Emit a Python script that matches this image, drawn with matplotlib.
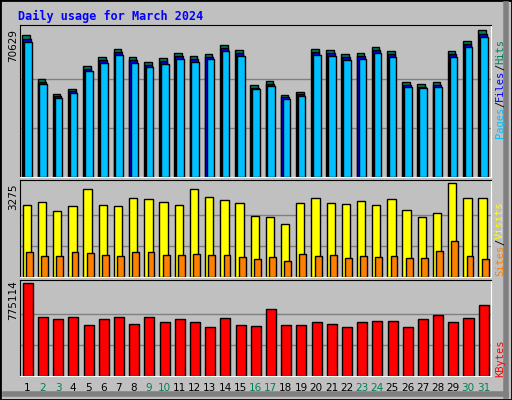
import numpy as np
import matplotlib
matplotlib.use("Agg")
import matplotlib.pyplot as plt

days = list(range(1, 32))
weekend = [2, 3, 9, 10, 16, 17, 23, 24, 30, 31]

# hits as fraction of 70629
hits_frac = [0.944, 0.651, 0.551, 0.585, 0.738, 0.798, 0.851, 0.798, 0.765, 0.791,
             0.825, 0.805, 0.820, 0.880, 0.845, 0.611, 0.638, 0.545, 0.564, 0.851,
             0.845, 0.818, 0.825, 0.865, 0.838, 0.631, 0.618, 0.631, 0.838, 0.905, 0.978]
hits = [f / 0.978 * 70629 for f in hits_frac]
files = [h * 0.975 for h in hits]
pages = [h * 0.955 for h in hits]

# visits / sites as pixel tops (baseline 303, top 18 in zoomed coords)
visits_px = [91, 82, 109, 94, 46, 91, 94, 70, 73, 82, 91, 46, 67, 76, 85, 124,
             127, 148, 85, 70, 85, 88, 79, 91, 73, 106, 127, 115, 28, 70, 70]
sites_px = [229, 241, 241, 229, 232, 238, 241, 229, 229, 238, 238, 235, 238, 238, 244, 250,
            244, 256, 235, 241, 238, 247, 241, 244, 241, 247, 247, 226, 196, 241, 250]
visits = [(303 - p) / (303 - 28) * 3275 for p in visits_px]
sites = [(303 - p) / (303 - 28) * 3275 for p in sites_px]

kbytes_px = [327, 427, 433, 427, 451, 433, 427, 448, 427, 442, 433, 442, 457, 430, 451, 454,
             403, 451, 451, 442, 448, 457, 442, 439, 439, 457, 433, 421, 442, 430, 391]
kbytes = [(601 - p) / (601 - 327) * 775114 for p in kbytes_px]

BG = "#C0C0C0"
W, H = 512, 400
fig = plt.figure(figsize=(5.12, 4.0), dpi=100, facecolor=BG)

# outer frame
fig.add_artist(plt.Rectangle((0, 0), 1, 1, transform=fig.transFigure, fill=False,
                             edgecolor="black", lw=2))
fig.add_artist(plt.Line2D([1 - 6 / W, 1 - 6 / W], [0.01, 1 - 4 / H], transform=fig.transFigure,
                          color="#808080", lw=4))
fig.add_artist(plt.Line2D([0.01, 1 - 6 / W], [6 / H, 6 / H], transform=fig.transFigure,
                          color="#808080", lw=4))


def panel(top, bottom, ymax):
    ax = fig.add_axes([20 / W, 1 - bottom / H, (491 - 20) / W, (bottom - top) / H])
    ax.set_facecolor(BG)
    ax.set_xlim(0.5, 31.5)
    ax.set_ylim(0, ymax * 1.035)
    for y in (ymax / 3, 2 * ymax / 3):
        ax.axhline(y, color="#808080", lw=1, zorder=0)
    ax.set_xticks([])
    ax.set_yticks([])
    ax.spines["top"].set_color("black")
    ax.spines["left"].set_color("black")
    ax.spines["bottom"].set_color("white")
    ax.spines["right"].set_color("white")
    return ax


x = np.array(days)
ek = dict(edgecolor="black", linewidth=1)

ax1 = panel(25, 177, 70629 * 1.0)
ax1.bar(x - 0.09, hits, width=0.5, color="#00805C", **ek)
ax1.bar(x - 0.045, files, width=0.5, color="#0000FF", **ek)
ax1.bar(x + 0.03, pages, width=0.5, color="#00C0FF", **ek)

ax2 = panel(180, 277, 3275)
ax2.bar(x - 0.05, visits, width=0.55, color="#FFFF00", **ek)
ax2.bar(x + 0.12, sites, width=0.45, color="#FF8000", **ek)

ax3 = panel(280, 376, 775114)
ax3.bar(x + 0.02, kbytes, width=0.66, color="#FF0000", **ek)

mono = "DejaVu Sans Mono"
fig.text(18 / W, 1 - 16 / H, "Daily usage for March 2024", color="#0000FF",
         family=mono, weight="bold", fontsize=8.5, va="center")
for txt, yc in (("70629", 45), ("3275", 197), ("775114", 300)):
    fig.text(13 / W, 1 - yc / H, txt, rotation=90, family="DejaVu Sans", fontsize=7.5,
             ha="center", va="center")

for d in days:
    xf = (20 + (d - 0.5) / 31 * 471) / W
    fig.text(xf, 1 - 388 / H, str(d), color="#00805C" if d in weekend else "black",
             fontsize=7.5, ha="center", va="center")


def side_label(parts, yc):
    # stack rotated parts from bottom to top
    ypos = yc
    for txt, col in parts:
        t = fig.text(500 / W, 1 - ypos / H, txt, rotation=90, color=col, family=mono,
                     fontsize=7.5, ha="center", va="bottom")
        ypos -= len(txt) * 6.2


side_label([("Pages", "#00C0FF"), ("/", "black"), ("Files", "#0000FF"),
            ("/", "black"), ("Hits", "#00805C")], 138)
side_label([("Sites", "#FF8000"), ("/", "black"), ("Visits", "#FFFF00")], 276)
side_label([("KBytes", "#FF0000")], 377)

fig.savefig("out.png", dpi=100, facecolor=BG)
